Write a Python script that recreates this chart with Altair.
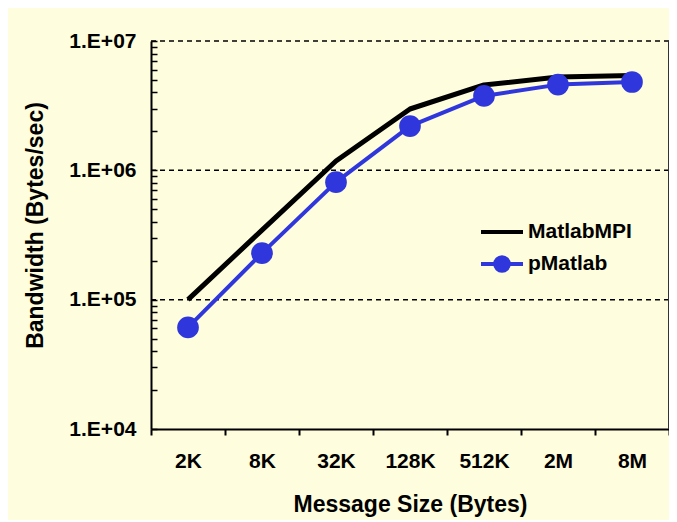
import altair as alt
import pandas as pd

# ---- data ----
sizes = ["2K", "8K", "32K", "128K", "512K", "2M", "8M"]
matlabmpi = [1.0e5, 3.45e5, 1.18e6, 2.98e6, 4.57e6, 5.26e6, 5.4e6]
pmatlab = [6.1e4, 2.29e5, 8.1e5, 2.2e6, 3.76e6, 4.6e6, 4.82e6]
series_names = ["MatlabMPI", "pMatlab"]
major_ticks = [1e4, 1e5, 1e6, 1e7]
grid_values = [1e5, 1e6, 1e7]
minor_ticks = [m * 10 ** k for k in range(4, 7) for m in range(2, 10)]

BG = "#FEFDDD"
BLUE = "#2F37DC"
FONT = "Liberation Sans"
W, H = 518, 388

rows = []
for s, a, b in zip(sizes, matlabmpi, pmatlab):
    rows.append({"size": s, "series": "MatlabMPI", "bw": a})
    rows.append({"size": s, "series": "pMatlab", "bw": b})
df = pd.DataFrame(rows)

grid_df = pd.DataFrame({"bw": grid_values})

yscale = alt.Scale(type="log", domain=[1e4, 1e7], nice=False)
YTITLE = "Bandwidth (Bytes/sec)"

x_enc = alt.X(
    "size:N",
    sort=sizes,
    scale=alt.Scale(paddingInner=0, paddingOuter=0),
    axis=alt.Axis(
        title="Message Size (Bytes)",
        labelAngle=0,
        tickBand="extent",
        tickSize=6,
        tickWidth=2,
        tickColor="black",
        domainColor="black",
        domainWidth=2,
        labelFont=FONT,
        labelFontSize=21,
        labelFontWeight="bold",
        labelColor="black",
        labelPadding=15,
        titleFont=FONT,
        titleFontSize=23,
        titleFontWeight="bold",
        titleColor="black",
        titleX=W / 2,
        titleY=82,
        titleAlign="center",
        titleBaseline="alphabetic",
        grid=False,
    ),
)

LOG10 = "(log(datum.value)/LN10)"
y_axis = alt.Axis(
    title=YTITLE,
    values=sorted(major_ticks + minor_ticks),
    labelExpr=f"abs({LOG10} - round({LOG10})) < 1e-6 ? '1.E+0' + format({LOG10}, '.0f') : ''",
    ticks=True,
    tickSize={"expr": "-6"},
    tickWidth=1.5,
    tickColor="black",
    grid=False,
    domainColor="black",
    domainWidth=2,
    labelFont=FONT,
    labelFontSize=21,
    labelFontWeight="bold",
    labelColor="black",
    labelPadding=21,
    labelOverlap=False,
    titleFont=FONT,
    titleFontSize=23,
    titleFontWeight="bold",
    titleColor="black",
    titleX=-116,
    titleY=184,
    titleAngle=270,
    titleAlign="center",
    titleBaseline="middle",
)

grid = alt.Chart(grid_df).mark_rule(
    color="black", strokeWidth=1.5, strokeDash=[5, 4]
).encode(
    y=alt.Y("bw:Q", scale=yscale, axis=y_axis, title=YTITLE),
    x=alt.value(0),
    x2=alt.value(W),
)

is_p = "datum.value === 'pMatlab'"
SYM_P = "M-2.1,0L2.1,0M-0.68,0A0.68,0.68 0 1,0 0.68,0A0.68,0.68 0 1,0 -0.68,0Z"
SYM_M = "M-2.1,0L2.1,0"
legend = alt.Legend(
    title=None,
    orient="none",
    legendX=339,
    legendY=179,
    labelFont=FONT,
    labelFontSize=21,
    labelFontWeight="bold",
    labelColor="black",
    labelOffset=14,
    symbolSize=400,
    symbolStrokeWidth=4,
    symbolType={"expr": f"{is_p} ? '{SYM_P}' : '{SYM_M}'"},
    symbolFillColor={"expr": f"{is_p} ? '{BLUE}' : 'transparent'"},
    rowPadding=7,
)

lines = alt.Chart(df).mark_line(strokeJoin="round").encode(
    x=x_enc,
    y=alt.Y("bw:Q", scale=yscale, title=YTITLE),
    color=alt.Color(
        "series:N",
        scale=alt.Scale(domain=series_names, range=["black", BLUE]),
        legend=legend,
    ),
    strokeWidth=alt.condition("datum.series === 'pMatlab'", alt.value(4), alt.value(5)),
    order=alt.Order("series:N", sort="ascending"),
)

points = alt.Chart(df).transform_filter(
    "datum.series === 'pMatlab'"
).mark_circle(size=470, opacity=1, color=BLUE).encode(
    x=alt.X("size:N", sort=sizes),
    y=alt.Y("bw:Q", scale=yscale, title=YTITLE),
)

border = alt.Chart(grid_df).mark_rule(color="#333333", strokeWidth=2).encode(
    x=alt.value(W),
    y=alt.value(0),
    y2=alt.value(H),
)

chart = alt.layer(grid, lines, points, border).properties(
    width=W,
    height=H,
    background=BG,
    padding={"left": 143, "top": 33, "right": 0, "bottom": 91},
    autosize=alt.AutoSizeParams(type="none"),
).configure_view(stroke=None, fill=BG)

chart.save("out.html", embed_options={"renderer": "svg", "actions": False})
